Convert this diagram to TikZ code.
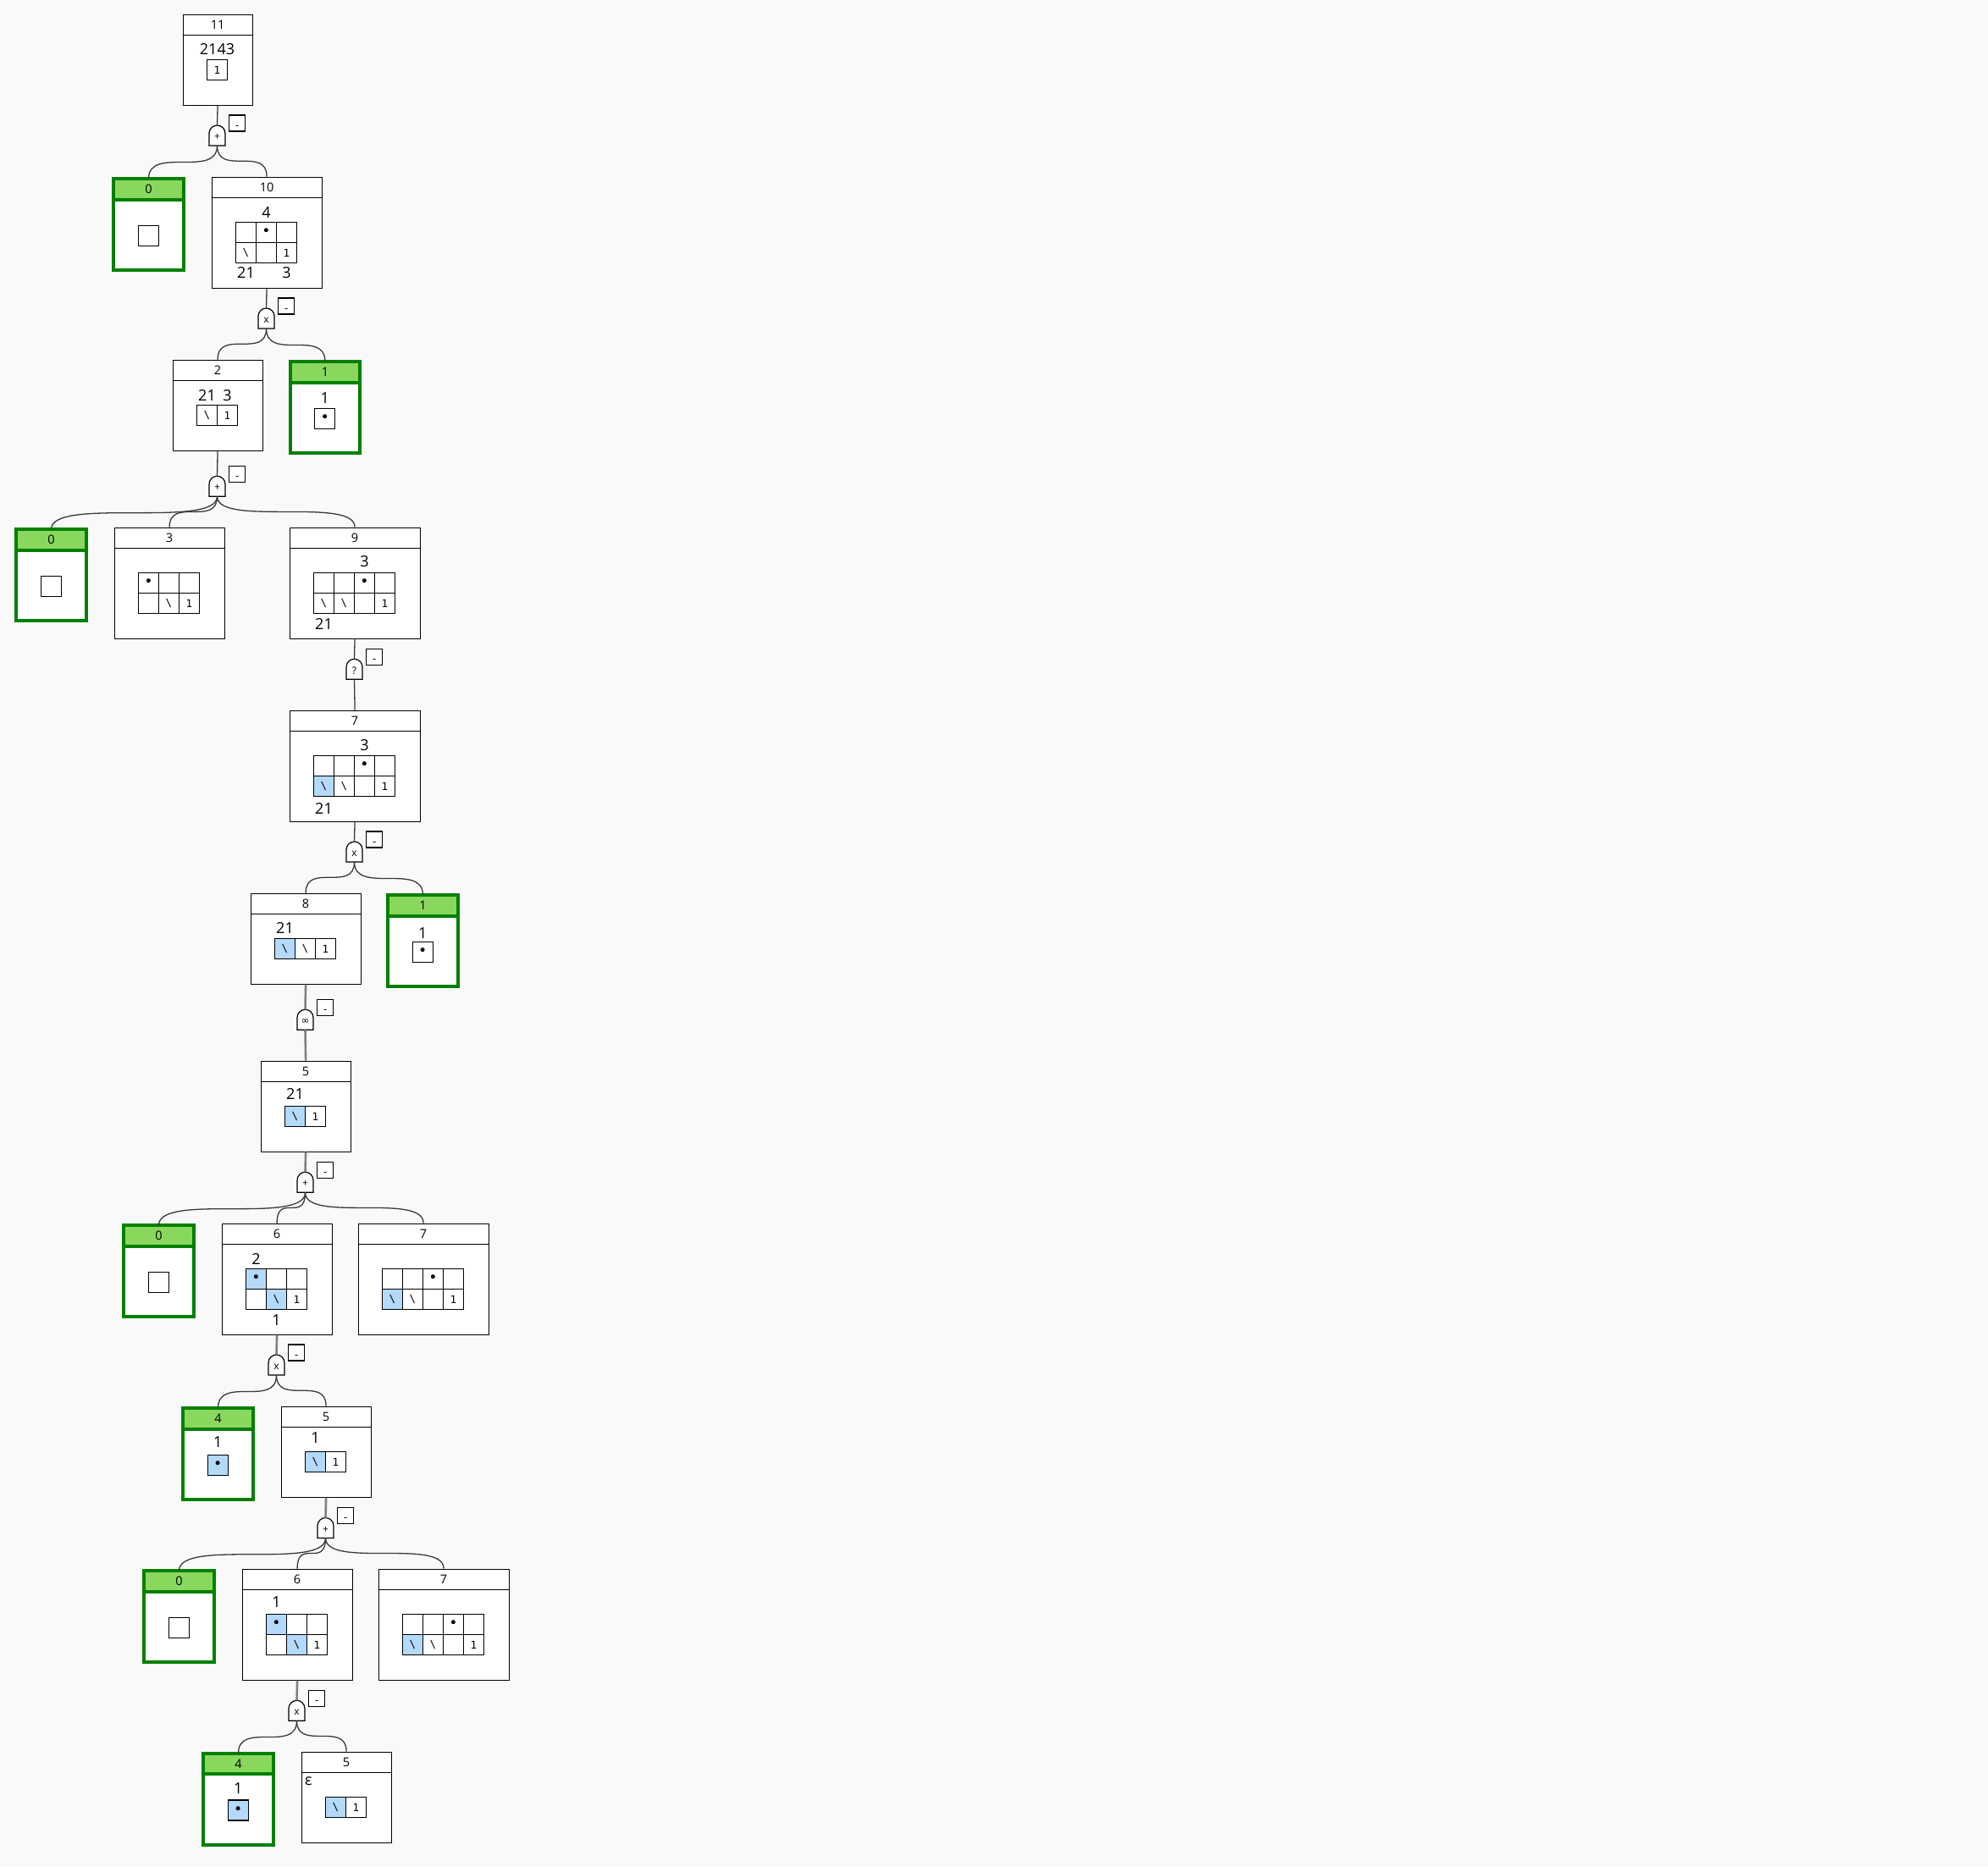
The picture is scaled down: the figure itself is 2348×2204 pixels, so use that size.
\documentclass[tikz,border=0pt]{standalone}
\usepackage{fontspec}
\setmainfont{Open Sans}
\newfontfamily\monof{DejaVu Sans Mono}
\newfontfamily\symf{DejaVu Sans}

\definecolor{bgc}{HTML}{F9F9F9}
\definecolor{cw}{HTML}{FFFFFF}
\definecolor{cb}{HTML}{B3D9FB}
\definecolor{gborder}{HTML}{008000}
\definecolor{gfillc}{HTML}{8AD75E}
\definecolor{connc}{HTML}{3A3A3A}
\definecolor{grayc}{HTML}{808080}

\tikzset{
  boxw/.style={draw=black, line width=1.2pt, fill=white, inner sep=0pt, anchor=north west},
  boxline/.style={draw=black, line width=1.2pt},
  gbody/.style={fill=white, inner sep=0pt, anchor=north west, minimum width=82pt, minimum height=107.7pt},
  gline/.style={draw=gborder, line width=4pt},
  gfill/.style={fill=gfillc},
  hdr/.style={inner sep=0pt, font=\fontsize{14.5}{16}\selectfont},
  lbl/.style={inner sep=0pt, font=\fontsize{18}{20}\selectfont},
  cellst/.style={draw=black, line width=1.2pt, minimum size=24pt, inner sep=0pt, font=\monof\fontsize{12.5}{14}\selectfont},
  gatest/.style={draw=black, line width=1.2pt, fill=white},
  gsym/.style={inner sep=0pt, font=\fontsize{12}{13}\selectfont},
  minusbox/.style={draw=black, line width=1.2pt, fill=white, minimum size=19pt, inner sep=0pt, font=\fontsize{13}{14}\selectfont},
  conn/.style={draw=connc, line width=1.3pt},
  thickconn/.style={draw=grayc, line width=2.6pt},
}

% white box with a numbered header strip
\newcommand\tbox[6]{%
  \node[boxw, minimum width=#4pt, minimum height=#5pt] (#1) at (#2,#3) {};
  \draw[boxline] ([yshift=-25pt]#1.north west) -- ([yshift=-25pt]#1.north east);
  \node[hdr] (#1-h) at ([yshift=-12.5pt]#1.north) {#6};
}
% green (terminal) box
\newcommand\tgreen[4]{%
  \node[gbody] (#1) at (#2,#3) {};
  \fill[gfill] (#1.north west) rectangle ([yshift=-24.5pt]#1.north east);
  \draw[gline] (#1.north west) rectangle (#1.south east);
  \draw[gline] ([yshift=-24.5pt]#1.north west) -- ([yshift=-24.5pt]#1.north east);
  \node[hdr] (#1-h) at ([yshift=-12.5pt]#1.north) {#4};
}
% a row of grid cells: prefix, left x, top y, list of fill/content
\newcommand\trow[4]{%
  \foreach \f/\t [count=\i] in {#4}{%
    \node[cellst, fill=\f] (#1-\i) at ({#2+24*\i-12},{#3+12}) {\t};
  }%
}
% gate with rounded top and its small "-" tag
\newcommand\tgate[4]{%
  \draw[gatest] (#2-9.5,#3+24) -- (#2-9.5,#3+9.5) arc[start angle=180, end angle=360, radius=9.5] -- (#2+9.5,#3+24) -- cycle;
  \node[gsym] (#1) at (#2,#3+14) {#4};
  \coordinate (#1-top) at (#2,#3);
  \coordinate (#1-bot) at (#2,#3+24);
  \node[minusbox] (#1-tag) at (#2+23.8,#3-2.5) {\raisebox{-6.5pt}[0pt][0pt]{-}};
}
% curved branch from a gate to a child box
\newcommand\tbranch[2]{%
  \draw[conn] (#1-bot) .. controls (#1-bot |- #2.north) and (#2.north |- #1-bot) .. (#2.north);
}
\newcommand\bul{{\fontsize{17}{17}\selectfont •}}
\newcommand\bsl{\textbackslash}

\begin{document}
\begin{tikzpicture}[x=1pt, y=-1pt]
\fill[bgc] (0,0) rectangle (2348,2204);
\useasboundingbox (0,0) rectangle (2348,2204);

% ---- gates ----
\tgate{op1}{256.5}{148}{+}
\tgate{op2}{314.5}{364}{x}
\tgate{op3}{256.5}{562.3}{+}
\tgate{op4}{418.5}{778.3}{?}
\tgate{op5}{418.5}{994}{x}
\tgate{op6}{360.5}{1192.3}{\symf ∞}
\tgate{op7}{360.5}{1384.3}{+}
\tgate{op8}{326.5}{1600}{x}
\tgate{op9}{384.5}{1792.5}{+}
\tgate{op10}{350.5}{2008.3}{x}

% ---- boxes ----
\tbox{n11}{215.5}{16.5}{82}{107}{11}
\node[lbl] (n11-a) at (256.5,58) {2143};
\trow{n11-r1}{244.5}{70.5}{cw/1}

\tgreen{t0a}{134.3}{211}{0}
\trow{t0a-r1}{163.3}{266.3}{cw/{}}

\tbox{n10}{249.5}{208.5}{130}{131}{10}
\node[lbl] (n10-a) at (314.5,251) {4};
\node[lbl] (n10-b) at (290.5,322) {21};
\node[lbl] (n10-c) at (338.5,322) {3};
\trow{n10-r1}{278.5}{262.5}{cw/{},cw/\bul,cw/{}}
\trow{n10-r2}{278.5}{286.5}{cw/\bsl,cw/{},cw/1}

\tbox{n2}{203.5}{424.5}{106}{107}{2}
\node[lbl] (n2-a) at (244.5,467) {21};
\node[lbl] (n2-b) at (268.5,467) {3};
\trow{n2-r1}{232.5}{478.5}{cw/\bsl,cw/1}

\tgreen{t1a}{342.7}{427}{1}
\node[lbl] (t1a-a) at (383.7,470) {1};
\trow{t1a-r1}{371.7}{482.3}{cw/\bul}

\tgreen{t0b}{19.3}{625}{0}
\trow{t0b-r1}{48.3}{680.3}{cw/{}}

\tbox{n3}{134.5}{622.5}{130}{131}{3}
\trow{n3-r1}{163.5}{676.5}{cw/\bul,cw/{},cw/{}}
\trow{n3-r2}{163.5}{700.5}{cw/{},cw/\bsl,cw/1}

\tbox{n9}{341.5}{622.5}{154}{131}{9}
\node[lbl] (n9-a) at (430.5,663) {3};
\node[lbl] (n9-b) at (382.5,737) {21};
\trow{n9-r1}{370.5}{676.5}{cw/{},cw/{},cw/\bul,cw/{}}
\trow{n9-r2}{370.5}{700.5}{cw/\bsl,cw/\bsl,cw/{},cw/1}

\tbox{n7}{341.5}{838.5}{154}{131}{7}
\node[lbl] (n7-a) at (430.5,880) {3};
\node[lbl] (n7-b) at (382.5,955) {21};
\trow{n7-r1}{370.5}{892.5}{cw/{},cw/{},cw/\bul,cw/{}}
\trow{n7-r2}{370.5}{916.5}{cb/\bsl,cw/\bsl,cw/{},cw/1}

\tbox{n8}{295.5}{1054.5}{130}{107}{8}
\node[lbl] (n8-a) at (336.5,1096) {21};
\trow{n8-r1}{324.5}{1108.5}{cb/\bsl,cw/\bsl,cw/1}

\tgreen{t1b}{458.3}{1057}{1}
\node[lbl] (t1b-a) at (499.3,1101.7) {1};
\trow{t1b-r1}{487.3}{1112.3}{cw/\bul}

\tbox{n5a}{307.5}{1252.5}{106}{107}{5}
\node[lbl] (n5a-a) at (348.5,1292) {21};
\trow{n5a-r1}{336.5}{1306.5}{cb/\bsl,cw/1}

\tgreen{t0c}{146.3}{1447}{0}
\trow{t0c-r1}{175.3}{1502.3}{cw/{}}

\tbox{n6a}{261.5}{1444.5}{130}{131}{6}
\node[lbl] (n6a-a) at (302.5,1487) {2};
\node[lbl] (n6a-b) at (326.5,1559) {1};
\trow{n6a-r1}{290.5}{1498.5}{cb/\bul,cw/{},cw/{}}
\trow{n6a-r2}{290.5}{1522.5}{cw/{},cb/\bsl,cw/1}

\tbox{n7a}{422.5}{1444.5}{154}{131}{7}
\trow{n7a-r1}{451.5}{1498.5}{cw/{},cw/{},cw/\bul,cw/{}}
\trow{n7a-r2}{451.5}{1522.5}{cb/\bsl,cw/\bsl,cw/{},cw/1}

\tgreen{t4a}{216.3}{1663}{4}
\node[lbl] (t4a-a) at (257.3,1703) {1};
\trow{t4a-r1}{245.3}{1718.3}{cb/\bul}

\tbox{n5b}{331.5}{1660.5}{106}{107}{5}
\node[lbl] (n5b-a) at (372.5,1698) {1};
\trow{n5b-r1}{360.5}{1714.5}{cb/\bsl,cw/1}

\tgreen{t0d}{170.3}{1855}{0}
\trow{t0d-r1}{199.3}{1910.3}{cw/{}}

\tbox{n6b}{285.5}{1852.5}{130}{131}{6}
\node[lbl] (n6b-a) at (326.5,1892) {1};
\trow{n6b-r1}{314.5}{1906.5}{cb/\bul,cw/{},cw/{}}
\trow{n6b-r2}{314.5}{1930.5}{cw/{},cb/\bsl,cw/1}

\tbox{n7b}{446.5}{1852.5}{154}{131}{7}
\trow{n7b-r1}{475.5}{1906.5}{cw/{},cw/{},cw/\bul,cw/{}}
\trow{n7b-r2}{475.5}{1930.5}{cb/\bsl,cw/\bsl,cw/{},cw/1}

\tgreen{t4b}{240.3}{2070.7}{4}
\node[lbl] (t4b-a) at (281.3,2112) {1};
\trow{t4b-r1}{269.3}{2126}{cb/\bul}

\tbox{n5c}{355.5}{2068.5}{106}{107}{5}
\node[lbl] (n5c-a) at (364.5,2104) {ε};
\trow{n5c-r1}{384.5}{2122.5}{cb/\bsl,cw/1}

% ---- connectors ----
\draw[conn] (n11.south) -- (op1-top);
\tbranch{op1}{t0a}
\tbranch{op1}{n10}
\draw[conn] (n10.south) -- (op2-top);
\tbranch{op2}{n2}
\tbranch{op2}{t1a}
\draw[conn] (n2.south) -- (op3-top);
\tbranch{op3}{t0b}
\tbranch{op3}{n3}
\tbranch{op3}{n9}
\draw[conn] (n9.south) -- (op4-top);
\draw[conn] (op4-bot) -- (n7.north);
\draw[conn] (n7.south) -- (op5-top);
\tbranch{op5}{n8}
\tbranch{op5}{t1b}
\draw[thickconn] (n8.south) -- (op6-top);
\draw[thickconn] (op6-bot) -- (n5a.north);
\draw[thickconn] (n5a.south) -- (op7-top);
\tbranch{op7}{t0c}
\tbranch{op7}{n6a}
\tbranch{op7}{n7a}
\draw[thickconn] (n6a.south) -- (op8-top);
\tbranch{op8}{t4a}
\tbranch{op8}{n5b}
\draw[thickconn] (n5b.south) -- (op9-top);
\tbranch{op9}{t0d}
\tbranch{op9}{n6b}
\tbranch{op9}{n7b}
\draw[thickconn] (n6b.south) -- (op10-top);
\tbranch{op10}{t4b}
\tbranch{op10}{n5c}
\end{tikzpicture}
\end{document}
